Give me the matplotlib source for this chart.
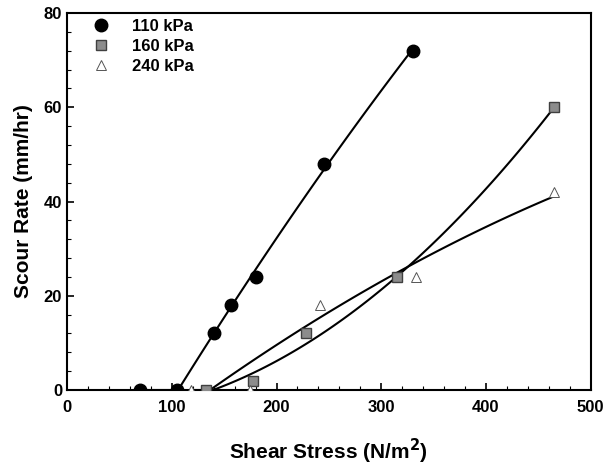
import numpy as np
import matplotlib.pyplot as plt
from matplotlib.ticker import MultipleLocator

plt.rcParams['font.family'] = ['Liberation Sans', 'DejaVu Sans']
plt.rcParams['font.weight'] = 'bold'

# measured points
x110 = [70, 105, 140, 157, 180, 245, 330]
y110 = [0, 0, 12, 18, 24, 48, 72]
x160 = [133, 178, 228, 315, 465]
y160 = [0, 2, 12, 24, 60]
x240 = [118, 175, 242, 333, 465]
y240 = [0, 0, 18, 24, 42]

# points
fit160_x = [140, 225, 315, 465]
fit160_y = [0, 9.5, 24, 60]
fit240_x = [135, 225, 320, 465]
fit240_y = [0, 12.5, 26, 41]

fig = plt.figure(figsize=(6.04, 4.66), dpi=100)
ax = fig.add_axes([0.111, 0.163, 0.867, 0.809])


def trend(xs, ys, deg=2):
    c = np.polyfit(xs, ys, deg)
    xx = np.linspace(min(xs), max(xs), 120)
    return xx, np.clip(np.polyval(c, xx), 0, None)


ax.plot([x110[0], x110[1]], [0, 0], color='black', lw=1.5)
xx, yy = trend(x110[1:], y110[1:])
ax.plot(xx, yy, color='black', lw=1.5)
xx, yy = trend(fit160_x, fit160_y)
ax.plot(xx, yy, color='black', lw=1.5)
xx, yy = trend(fit240_x, fit240_y)
ax.plot(xx, yy, color='black', lw=1.5)
ax.plot([x240[0], fit240_x[0]], [0, 0], color='black', lw=1.5)

ax.plot(x110, y110, 'o', ms=9, mfc='black', mec='black', label='110 kPa', zorder=5)
ax.plot(x160, y160, 's', ms=6.5, mfc='#8c8c8c', mec='#404040', mew=1, label='160 kPa', zorder=5)
ax.plot(x240, y240, '^', ms=7, mfc='white', mec='#555555', mew=0.7, label='240 kPa', zorder=5)

ax.set_xlim(0, 500)
ax.set_ylim(0, 80)
ax.xaxis.set_major_locator(MultipleLocator(100))
ax.xaxis.set_minor_locator(MultipleLocator(20))
ax.yaxis.set_major_locator(MultipleLocator(20))
ax.yaxis.set_minor_locator(MultipleLocator(4))
ax.tick_params(which='both', direction='in', top=False, right=False, labelsize=12)
ax.tick_params(which='major', length=5, width=1.2)
ax.tick_params(axis='x', which='major', pad=7)
ax.tick_params(which='minor', length=3, width=0.8)
for s in ax.spines.values():
    s.set_linewidth(1.5)

ax.set_xlabel('Shear Stress (N/m$^\\mathbf{2}$)', fontsize=15, fontweight='bold', labelpad=16)
ax.set_ylabel('Scour Rate (mm/hr)', fontsize=15, fontweight='bold', labelpad=8)

ax.legend(loc='upper left', frameon=False, fontsize=12, handlelength=1.0,
          handletextpad=1.4, borderpad=0, borderaxespad=0, labelspacing=0.3,
          bbox_to_anchor=(0.048, 0.985))

fig.savefig('out.png', dpi=100)
